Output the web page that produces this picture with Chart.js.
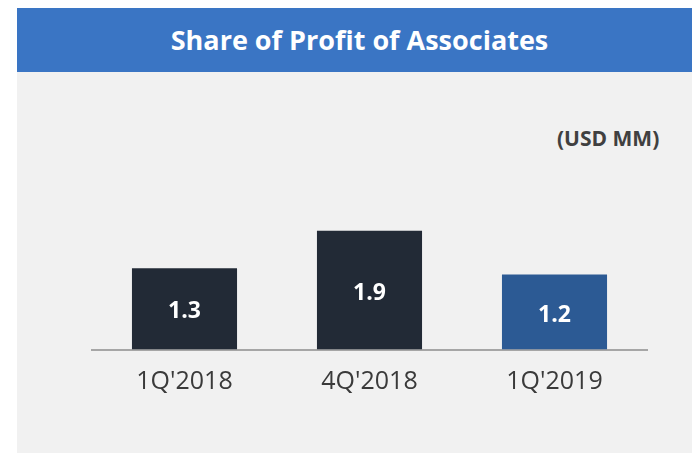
<!DOCTYPE html>
<html lang="en">
<head>
    <meta charset="UTF-8">
    <title>Share of Profit of Associates</title>
    <script src="https://cdn.jsdelivr.net/npm/chart.js"></script>
    <style>
        body {
            margin: 0;
            padding: 0;
            width: 692px;
            height: 453px;
            background: #ffffff;
            font-family: "Open Sans", Arial, sans-serif;
            position: relative;
            overflow: hidden;
        }

        .title-bar {
            position: absolute;
            left: 17px;
            top: 8px;
            width: 675px;
            height: 64px;
            background-color: #3a75c4;
            color: #ffffff;
            font-weight: bold;
            font-size: 27px;
            line-height: 64px;
            text-align: center;
            padding-left: 10px;
            box-sizing: border-box;
        }

        .panel {
            position: absolute;
            left: 17px;
            top: 72px;
            width: 675px;
            height: 381px;
            background-color: #f1f1f1;
        }

        .unit {
            position: absolute;
            left: 557px;
            top: 124px;
            font-size: 21px;
            font-weight: bold;
            color: #404040;
        }

        .chart-box {
            position: absolute;
            left: 0;
            top: 0;
            width: 692px;
            height: 453px;
        }
    </style>
</head>
<body>
    <div class="title-bar">Share of Profit of Associates</div>
    <div class="panel"></div>
    <div class="unit">(USD MM)</div>
    <div class="chart-box">
        <canvas id="profit-chart"></canvas>
    </div>

    <script>
        const quarters = ["1Q'2018", "4Q'2018", "1Q'2019"];
        const profitValues = [1.3, 1.9, 1.2];
        const barColors = ['#222a36', '#222a36', '#2c5a94'];

        // white value labels in the middle of each bar
        const valueLabels = {
            id: 'valueLabels',
            afterDatasetsDraw(chart) {
                const ctx = chart.ctx;
                const meta = chart.getDatasetMeta(0);
                ctx.save();
                ctx.fillStyle = '#ffffff';
                ctx.font = 'bold 23px "Open Sans", Arial, sans-serif';
                ctx.textAlign = 'center';
                ctx.textBaseline = 'middle';
                meta.data.forEach(function(bar, i) {
                    const midY = (bar.y + bar.base) / 2 + 3;
                    ctx.fillText(profitValues[i].toFixed(1), bar.x, midY);
                });
                ctx.restore();
            }
        };

        const ctx = document.getElementById('profit-chart').getContext('2d');
        new Chart(ctx, {
            type: 'bar',
            data: {
                labels: quarters,
                datasets: [{
                    data: profitValues,
                    backgroundColor: barColors,
                    borderWidth: 0,
                    categoryPercentage: 1.0,
                    barPercentage: 0.568
                }]
            },
            options: {
                responsive: true,
                maintainAspectRatio: false,
                animation: false,
                layout: {
                    padding: { left: 92, right: 45, top: 99.5, bottom: 0 }
                },
                plugins: {
                    legend: { display: false },
                    tooltip: { enabled: false }
                },
                scales: {
                    y: {
                        display: false,
                        min: 0,
                        max: 4
                    },
                    x: {
                        grid: { display: false, drawTicks: false },
                        border: { display: true, color: '#a6a6a6', width: 2 },
                        ticks: {
                            color: '#3a3a3a',
                            padding: 17,
                            font: { family: '"Open Sans", Arial, sans-serif', size: 25 }
                        },
                        afterFit: function(scale) {
                            scale.height = 103.5;
                        }
                    }
                }
            },
            plugins: [valueLabels]
        });
    </script>
</body>
</html>
